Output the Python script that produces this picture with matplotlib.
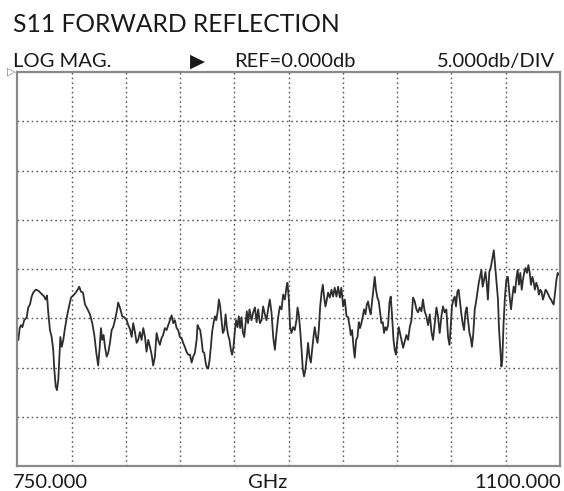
"""
plot.py
S11 forward reflection trace, VNA style screen
"""

import matplotlib

matplotlib.use("Agg")
import matplotlib.pyplot as plt

# sweep settings
f_start = 750.0
f_stop = 1100.0
ref_level = 0.0
db_per_div = 5.0
n_xdiv = 10
n_ydiv = 8

# trace (GHz, dB)
freq_ghz = [
    750.6, 751.5, 752.3, 753.2, 754.4, 756.0, 757.0, 758.1, 759.2, 760.2,
    761.8, 763.5, 764.8, 766.1, 767.3, 768.2, 769.1, 769.9, 771.0, 772.1,
    773.1, 773.8, 774.7, 775.5, 776.4, 777.0, 777.7, 778.6, 779.6, 780.7,
    782.0, 783.3, 784.6, 786.0, 787.6, 788.9, 789.9, 791.0, 792.3, 793.6,
    795.3, 796.8, 798.3, 799.6, 800.9, 802.1, 803.1, 803.9, 804.7, 805.6,
    806.5, 807.6, 808.6, 809.7, 810.8, 811.8, 812.9, 814.0, 815.0, 816.1,
    816.8, 817.6, 818.9, 820.5, 821.5, 822.6, 823.7, 824.7, 825.8, 826.9,
    827.9, 829.0, 830.1, 831.2, 832.3, 833.3, 834.4, 835.5, 836.6, 837.6,
    838.7, 839.8, 840.8, 841.9, 843.0, 844.0, 845.1, 846.2, 847.3, 848.4,
    849.5, 850.5, 851.6, 852.7, 853.7, 854.8, 855.9, 856.9, 858.0, 859.1,
    860.2, 861.3, 862.4, 863.4, 864.5, 865.6, 866.2, 867.1, 867.9, 868.8,
    869.6, 870.5, 871.4, 872.2, 873.1, 874.0, 874.8, 875.6, 876.5, 877.4,
    878.2, 879.1, 880.0, 880.8, 881.7, 882.5, 883.4, 884.3, 885.1, 885.9,
    886.8, 887.7, 888.5, 889.4, 890.3, 891.1, 892.0, 892.8, 893.7, 894.6,
    895.4, 896.3, 897.2, 898.0, 898.8, 899.7, 901.0, 902.1, 903.2, 904.3,
    905.3, 906.4, 907.5, 908.5, 909.6, 910.7, 911.7, 912.8, 913.9, 915.0,
    916.1, 917.1, 918.2, 919.3, 920.4, 921.4, 922.5, 923.6, 924.2, 925.1,
    925.9, 926.8, 927.8, 928.9, 930.0, 930.7, 931.5, 932.4, 933.3, 934.1,
    934.9, 935.8, 936.7, 937.5, 938.4, 939.3, 940.1, 941.0, 941.8, 942.7,
    943.6, 944.4, 945.3, 946.2, 947.0, 947.8, 948.7, 949.6, 950.4, 951.5,
    952.6, 953.6, 954.7, 955.8, 956.9, 958.0, 959.0, 960.1, 961.2, 962.3,
    963.3, 964.4, 965.0, 965.9, 966.8, 967.6, 968.5, 969.4, 970.2, 971.0,
    971.9, 972.8, 973.6, 974.5, 975.4, 976.2, 977.1, 977.9, 978.8, 979.7,
    980.5, 981.3, 982.2, 983.1, 983.9, 984.8, 985.7, 986.5, 987.4, 988.2,
    989.1, 990.0, 990.8, 991.7, 992.6, 993.4, 994.2, 995.1, 996.0, 996.8,
    997.7, 998.8, 999.8, 1000.9, 1002.0, 1003.1, 1004.2, 1005.2, 1006.3, 1007.4,
    1008.4, 1009.5, 1010.6, 1011.6, 1012.7, 1013.8, 1014.9, 1016.0, 1017.1, 1018.1,
    1019.2, 1020.3, 1021.3, 1022.4, 1023.5, 1024.5, 1025.6, 1026.7, 1027.8, 1028.7,
    1029.5, 1030.3, 1031.2, 1032.1, 1032.9, 1033.8, 1034.6, 1035.5, 1036.4, 1037.2,
    1038.1, 1039.0, 1039.8, 1040.7, 1041.6, 1042.4, 1043.2, 1044.1, 1045.0, 1045.8,
    1046.7, 1047.6, 1048.4, 1049.3, 1050.1, 1051.0, 1051.9, 1052.7, 1053.5, 1054.4,
    1055.4, 1056.7, 1057.3, 1058.0, 1058.9, 1060.0, 1060.6, 1061.5, 1062.2, 1062.8,
    1063.6, 1064.5, 1065.4, 1066.4, 1067.5, 1068.4, 1069.3, 1070.1, 1071.0, 1071.9,
    1072.7, 1073.5, 1074.4, 1075.3, 1076.1, 1077.0, 1077.8, 1078.7, 1079.6, 1080.4,
    1081.3, 1082.2, 1083.0, 1083.8, 1084.7, 1085.6, 1086.4, 1087.3, 1088.1, 1089.0,
    1089.9, 1090.7, 1091.6, 1092.5, 1093.3, 1094.2, 1095.1, 1095.9, 1096.8, 1097.7,
    1098.5, 1099.5,
]
s11_db = [
    -27.2, -26.0, -25.7, -25.9, -25.2, -24.9, -23.9, -23.6, -22.8, -22.4,
    -22.1, -22.2, -22.4, -22.6, -22.8, -23.1, -22.7, -24.4, -26.2, -26.9,
    -28.2, -30.2, -31.9, -32.3, -31.2, -29.2, -26.9, -27.9, -27.2, -26.0,
    -24.8, -23.8, -22.9, -22.7, -22.4, -22.1, -21.8, -22.3, -22.4, -23.6,
    -24.1, -24.6, -25.5, -26.7, -28.5, -29.8, -27.9, -26.0, -27.2, -26.7,
    -27.9, -28.9, -28.5, -27.5, -26.2, -25.9, -25.2, -24.4, -23.4, -23.9,
    -24.3, -24.8, -24.9, -25.2, -25.7, -26.1, -26.9, -25.5, -26.4, -27.5,
    -27.2, -26.4, -27.2, -26.0, -26.9, -28.4, -27.2, -27.9, -28.7, -29.8,
    -28.9, -26.5, -27.2, -27.7, -27.0, -26.7, -26.0, -26.2, -25.7, -25.2,
    -24.7, -25.5, -25.2, -26.0, -26.2, -26.9, -27.0, -27.5, -27.9, -28.4,
    -28.7, -28.7, -29.5, -28.9, -28.5, -27.2, -25.7, -26.0, -26.2, -27.2,
    -28.4, -28.5, -29.5, -30.0, -30.1, -29.2, -27.9, -26.4, -25.5, -24.8,
    -25.2, -24.4, -23.1, -23.8, -25.2, -26.5, -26.2, -24.6, -25.9, -26.7,
    -27.2, -28.2, -28.7, -27.9, -26.2, -25.2, -25.9, -24.8, -26.0, -24.9,
    -26.4, -26.9, -25.5, -24.3, -25.5, -24.1, -25.2, -24.4, -23.9, -25.4,
    -24.1, -25.5, -25.2, -23.8, -24.6, -25.2, -24.1, -23.1, -24.4, -26.9,
    -28.2, -26.5, -24.9, -23.8, -24.1, -22.6, -23.1, -21.8, -21.4, -23.1,
    -25.9, -26.5, -25.9, -26.2, -25.2, -23.9, -24.6, -26.2, -28.2, -30.2,
    -30.9, -30.2, -28.9, -27.5, -28.9, -29.5, -28.2, -26.9, -25.9, -26.9,
    -27.5, -26.2, -23.8, -22.4, -21.6, -22.8, -23.8, -23.1, -22.4, -22.9,
    -22.1, -22.8, -21.9, -22.8, -21.8, -22.9, -21.9, -23.8, -23.1, -24.8,
    -24.9, -25.9, -26.7, -26.2, -27.9, -29.0, -27.2, -26.9, -25.4, -26.0,
    -25.5, -24.8, -24.1, -24.6, -23.6, -23.3, -24.1, -24.6, -23.3, -22.1,
    -20.8, -22.1, -22.9, -23.3, -24.3, -25.5, -25.4, -26.5, -25.9, -26.2,
    -25.7, -23.4, -22.8, -24.8, -27.2, -28.2, -28.7, -27.2, -25.9, -26.5,
    -27.2, -28.0, -27.4, -26.7, -27.2, -25.9, -25.2, -22.9, -23.3, -24.1,
    -24.4, -23.9, -24.3, -23.1, -24.3, -24.8, -25.7, -24.6, -26.4, -27.2,
    -25.5, -23.9, -24.8, -26.5, -24.8, -23.8, -24.4, -24.1, -26.9, -27.7,
    -25.9, -23.8, -23.1, -22.8, -23.8, -22.3, -22.1, -23.3, -24.6, -25.5,
    -26.2, -24.4, -23.9, -25.2, -26.5, -27.0, -27.9, -26.5, -24.1, -23.4,
    -22.4, -21.4, -20.8, -20.1, -21.8, -21.1, -20.3, -21.4, -23.1, -20.3,
    -19.8, -18.6, -18.1, -19.4, -21.1, -23.1, -25.9, -28.2, -29.9, -29.2,
    -25.5, -22.8, -21.1, -20.8, -22.8, -24.1, -22.8, -21.8, -22.4, -20.9,
    -20.1, -21.6, -20.4, -22.1, -21.1, -20.3, -19.9, -20.4, -19.6, -20.3,
    -21.6, -20.8, -21.3, -22.1, -21.4, -21.8, -22.6, -22.1, -22.3, -23.1,
    -22.6, -22.1, -22.3, -22.6, -22.9, -23.1, -23.4, -23.6, -22.4, -21.1,
    -20.4, -20.6,
]

title_text = "S11 FORWARD REFLECTION"
format_text = "LOG MAG."
ref_text = "REF=0.000db"
scale_text = "5.000db/DIV"
start_label = "750.000"
stop_label = "1100.000"
unit_label = "GHz"

W, H = 564, 491
fig = plt.figure(figsize=(W / 100, H / 100), dpi=100)
ax = fig.add_axes([17.4 / W, 1 - 466 / H, 542.6 / W, 394 / H])

ax.plot(freq_ghz, s11_db, color="#2e2e2e", lw=1.3)

bottom = ref_level - n_ydiv * db_per_div
ax.set_xlim(f_start, f_stop)
ax.set_ylim(bottom, ref_level)
step = (f_stop - f_start) / n_xdiv
ax.set_xticks([f_start + i * step for i in range(1, n_xdiv)])
ax.set_yticks([ref_level - i * db_per_div for i in range(1, n_ydiv)])
ax.tick_params(length=0, labelbottom=False, labelleft=False)
ax.grid(True, color="#555555", lw=1.0, linestyle=(0, (1.2, 2.2)))
for s in ax.spines.values():
    s.set_color("#8a8a8a")
    s.set_linewidth(1.6)

font = "Lato"
small = 14.5


def ftext(x, y, s, **kw):
    # x, y in pixels from top-left, y is the baseline
    kw.setdefault("family", font)
    kw.setdefault("fontsize", small)
    fig.text(x / W, 1 - y / H, s, va="baseline", color="#1a1a1a", **kw)


ftext(13, 32, title_text, fontsize=17.7)
ftext(13, 67, format_text)
ftext(190, 67, "\u25b6", family="DejaVu Sans", fontsize=14)
ftext(234, 67, ref_text)
ftext(555, 67, scale_text, ha="right")
ftext(13, 488, start_label)
ftext(248, 488, unit_label)
ftext(561, 488, stop_label, ha="right")

# reference level marker on the left edge
ax.text(-0.003, 1.0, "\u25b7", transform=ax.transAxes, ha="right", va="center",
        family="DejaVu Sans", fontsize=8, color="#777777")

fig.savefig("out.png", dpi=100)
